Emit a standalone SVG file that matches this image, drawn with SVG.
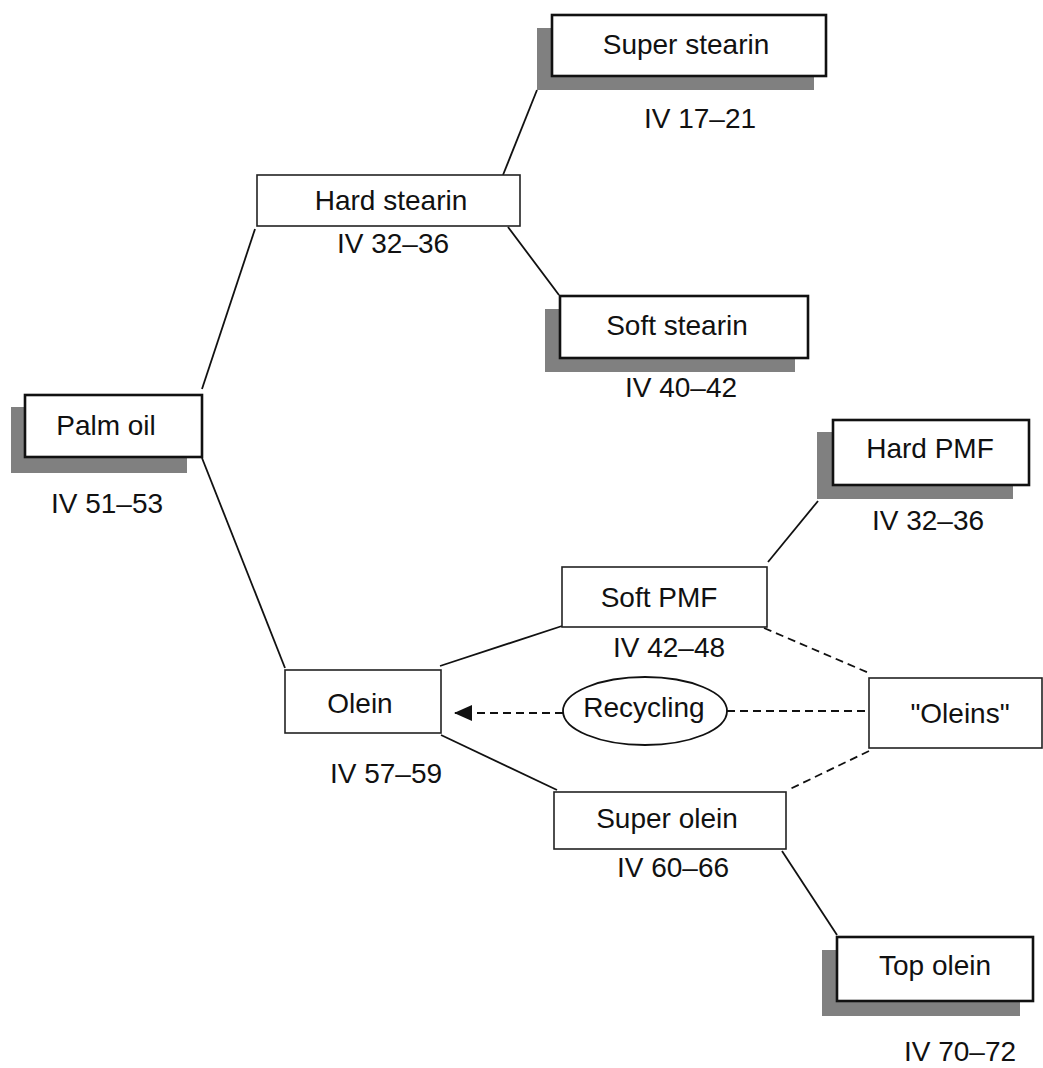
<svg xmlns="http://www.w3.org/2000/svg" width="1043" height="1068" viewBox="0 0 1043 1068">
<style>
  .shadow { fill: #808080; stroke: none; }
  .boxT { fill: #fff; stroke: #111; stroke-width: 2.6; }
  .boxN { fill: #fff; stroke: #222; stroke-width: 1.6; }
  .t { font-family: "Liberation Sans", Arial, sans-serif; font-size: 28px; fill: #111; text-anchor: middle; }
  .c { stroke: #111; stroke-width: 1.8; fill: none; }
  .d { stroke: #111; stroke-width: 1.8; fill: none; stroke-dasharray: 8 5; }
</style>
<defs>
  <marker id="arr" markerWidth="18" markerHeight="16" refX="17" refY="8" orient="auto" markerUnits="userSpaceOnUse">
    <path d="M0,0 L18,8 L0,16 Z" fill="#111"/>
  </marker>
</defs>
<rect width="1043" height="1068" fill="#fff"/>
<g id="connectors">
  <line class="c" x1="202" y1="389" x2="255" y2="229"/>
  <line class="c" x1="202" y1="458" x2="285" y2="668"/>
  <line class="c" x1="503" y1="175" x2="537" y2="90"/>
  <line class="c" x1="508" y1="227" x2="559" y2="295"/>
  <line class="c" x1="440" y1="666" x2="562" y2="626"/>
  <line class="c" x1="441" y1="735" x2="557" y2="790"/>
  <line class="c" x1="768" y1="562" x2="818" y2="501"/>
  <line class="c" x1="782" y1="851" x2="837" y2="935"/>
  <line class="d" x1="764" y1="628" x2="869" y2="673"/>
  <line class="d" x1="869" y1="751" x2="788" y2="790"/>
  <line class="d" x1="727" y1="711" x2="869" y2="711"/>
  <line class="d" x1="563" y1="713" x2="455" y2="713" marker-end="url(#arr)"/>
</g>
<g id="palm-oil">
  <rect class="shadow" x="11" y="407" width="176" height="66"/>
  <rect class="boxT" x="25" y="395" width="177" height="62"/>
  <text class="t" x="106" y="435">Palm oil</text>
  <text class="t" x="107" y="513">IV 51–53</text>
</g>
<g id="hard-stearin">
  <rect class="boxN" x="257" y="175" width="263" height="51"/>
  <text class="t" x="391" y="210">Hard stearin</text>
  <text class="t" x="393" y="253">IV 32–36</text>
</g>
<g id="super-stearin">
  <rect class="shadow" x="537" y="28" width="277" height="62"/>
  <rect class="boxT" x="552" y="15" width="274" height="61"/>
  <text class="t" x="686" y="54">Super stearin</text>
  <text class="t" x="700" y="128">IV 17–21</text>
</g>
<g id="soft-stearin">
  <rect class="shadow" x="545" y="309" width="250" height="63"/>
  <rect class="boxT" x="560" y="296" width="248" height="62"/>
  <text class="t" x="677" y="335">Soft stearin</text>
  <text class="t" x="681" y="397">IV 40–42</text>
</g>
<g id="hard-pmf">
  <rect class="shadow" x="817" y="432" width="196" height="67"/>
  <rect class="boxT" x="833" y="420" width="196" height="65"/>
  <text class="t" x="930" y="458">Hard PMF</text>
  <text class="t" x="928" y="530">IV 32–36</text>
</g>
<g id="soft-pmf">
  <rect class="boxN" x="562" y="567" width="205" height="60"/>
  <text class="t" x="659" y="607">Soft PMF</text>
  <text class="t" x="669" y="657">IV 42–48</text>
</g>
<g id="olein">
  <rect class="boxN" x="285" y="670" width="156" height="63"/>
  <text class="t" x="360" y="713">Olein</text>
  <text class="t" x="386" y="783">IV 57–59</text>
</g>
<g id="recycling">
  <ellipse cx="645" cy="711" rx="82" ry="34" fill="#fff" stroke="#111" stroke-width="1.8"/>
  <text class="t" x="644" y="717">Recycling</text>
</g>
<g id="oleins">
  <rect class="boxN" x="869" y="678" width="173" height="70"/>
  <text class="t" x="960" y="723">"Oleins"</text>
</g>
<g id="super-olein">
  <rect class="boxN" x="554" y="792" width="232" height="57"/>
  <text class="t" x="667" y="828">Super olein</text>
  <text class="t" x="673" y="877">IV 60–66</text>
</g>
<g id="top-olein">
  <rect class="shadow" x="822" y="950" width="198" height="66"/>
  <rect class="boxT" x="837" y="937" width="196" height="64"/>
  <text class="t" x="935" y="975">Top olein</text>
  <text class="t" x="960" y="1061">IV 70–72</text>
</g>
</svg>
